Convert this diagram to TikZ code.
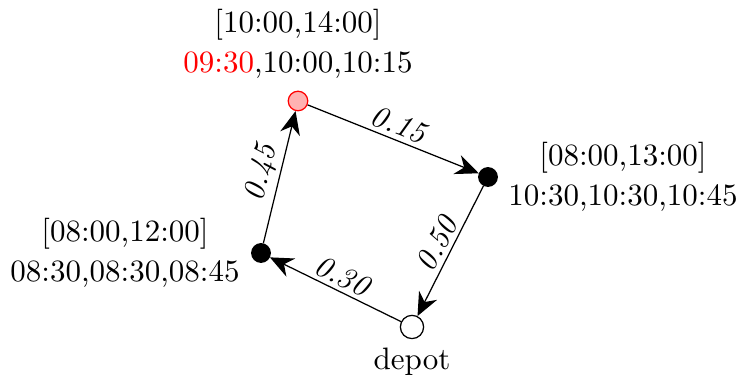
\documentclass[tikz,border=0pt]{standalone}
\usetikzlibrary{arrows.meta}

\begin{document}
\begin{tikzpicture}[
    x=0.3225pt, y=-0.3225pt,
    customer/.style={circle, draw, fill=black, inner sep=0pt, minimum size=6pt},
    late/.style={circle, draw=red, fill=red!30, inner sep=0pt, minimum size=6.3pt},
    depotnode/.style={circle, draw, fill=white, inner sep=0pt, minimum size=7.5pt},
    info/.style={align=center, inner sep=1pt},
    arrow/.style={-{Stealth[length=7.5pt,width=6.5pt]}},
    weight/.style={sloped, font=\itshape, inner sep=1.3pt}
]
\useasboundingbox (0,0) rectangle (741,376);

% nodes
\node[late] (c1) at (298,101) {};
\node[customer] (c2) at (488,177) {};
\node[customer] (c3) at (261,253) {};
\node[depotnode] (dep) at (412,327) {};

% time windows and times
\node[info] (t1) at (298,44) {[10:00,14:00]\\[1pt]\textcolor{red}{09:30},10:00,10:15};
\node[info] (t2) at (623,177) {[08:00,13:00]\\[1pt]10:30,10:30,10:45};
\node[info] (t3) at (125,253) {[08:00,12:00]\\[1pt]08:30,08:30,08:45};
\node[info] (t4) at (412,362) {depot};

% arcs
\draw [arrow] (c1) -- node[weight, above] {0.15} (c2);
\draw [arrow] (c2) -- node[weight, above] {0.50} (dep);
\draw [arrow] (dep) -- node[weight, above] {0.30} (c3);
\draw [arrow] (c3) -- node[weight, above] {0.45} (c1);

\end{tikzpicture}
\end{document}
